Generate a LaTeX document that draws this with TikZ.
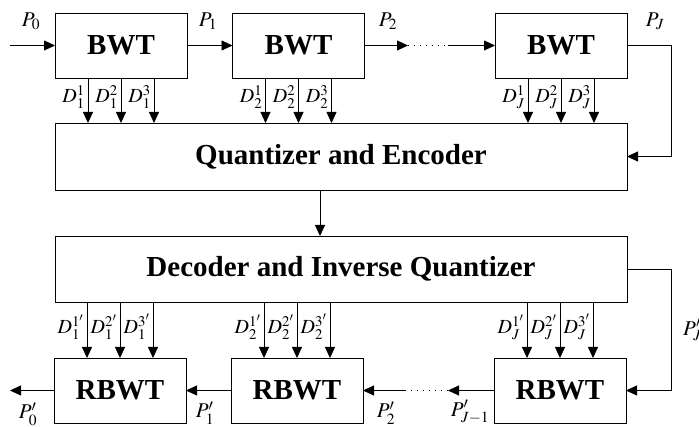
\documentclass[tikz,border=0pt]{standalone}
\usepackage{mathptmx}
\usepackage{fontspec}
\setmainfont{Liberation Serif}
\usetikzlibrary{arrows.meta,calc}
\begin{document}
\begin{tikzpicture}[x=1pt,y=-1pt,
  box/.style={draw, line width=0.8pt, inner sep=0pt, outer sep=0pt,
    font=\fontsize{29}{34}\selectfont\bfseries},
  smallbox/.style={box, minimum width=132pt, minimum height=65pt},
  widebox/.style={box, minimum width=572pt},
  arr/.style={line width=0.8pt, -{Triangle[length=11pt,width=10pt]}},
  dotline/.style={line width=0.8pt, dash pattern=on 1pt off 5pt},
  lab/.style={inner sep=0pt, font=\fontsize{21}{24}\selectfont},
  dlab/.style={inner sep=0pt, anchor=east, font=\fontsize{20}{23}\selectfont}]
\useasboundingbox (0,0) rectangle (699,427);
% top row
\node[smallbox] (b1) at (121,45.5) {BWT};
\node[smallbox] (b2) at (298.5,45.5) {BWT};
\node[smallbox] (b3) at (561,45.5) {BWT};
% middle
\node[widebox, minimum height=67pt] (q) at (341,156.5) {Quantizer and Encoder};
\node[widebox, minimum height=66pt] (dq) at (341,269) {Decoder and Inverse Quantizer};
% bottom row
\node[smallbox] (r1) at (120,390.5) {RBWT};
\node[smallbox] (r2) at (297,390.5) {RBWT};
\node[smallbox] (r3) at (560,390.5) {RBWT};
% top chain
\coordinate (in) at (10,45.5);
\coordinate (t1) at (408,45.5);
\coordinate (t2) at (448,45.5);
\draw[arr] (in) -- (b1.west);
\draw[arr] (b1.east) -- (b2.west);
\draw[arr] (b2.east) -- (t1);
\draw[dotline] (t1) -- (t2);
\draw[arr] (t2) -- (b3.west);
% bottom chain
\coordinate (out) at (10,390.5);
\coordinate (u1) at (448,390.5);
\coordinate (u2) at (405,390.5);
\draw[arr] (r1.west) -- (out);
\draw[arr] (r2.west) -- (r1.east);
\draw[arr] (r3.west) -- (u1);
\draw[dotline] (u1) -- (u2);
\draw[arr] (u2) -- (r2.east);
% feedback paths
\draw[arr] (b3.east) -- ++(44,0) |- (q.east);
\draw[arr] (dq.east) -- ++(44,0) |- (r3.east);
% quantizer to decoder
\draw[arr] (q.south -| 320,0) -- (dq.north -| 320,0);
% D arrows top
\foreach \b/\s in {b1/1,b2/2,b3/J}{
  \foreach \k/\dx in {1/-33,2/0,3/33}{
    \draw[arr] ([xshift=\dx pt]\b.south) -- ([xshift=\dx pt]\b.south |- q.north);
    \node[dlab] (l\b\k) at ([xshift=\dx pt-3pt,yshift=-19pt]\b.south) {$D_{\s}^{\k}$};
  }
}
% D arrows bottom
\foreach \b/\s in {r1/1,r2/2,r3/J}{
  \foreach \k/\dx in {1/-33,2/0,3/33}{
    \draw[arr] ([xshift=\dx pt]\b.north |- dq.south) -- ([xshift=\dx pt]\b.north);
    \node[dlab] (l\b\k) at ([xshift=\dx pt-3pt,yshift=31pt]\b.north) {$D_{\s}^{\k'}$};
  }
}
% P labels
\node[lab] (p0) at (31,21) {$P_0$};
\node[lab] (p1) at (208,21) {$P_1$};
\node[lab] (p2) at (388,21) {$P_2$};
\node[lab] (pJ) at (655,21) {$P_J$};
\node[lab] (q0) at (28,414) {$P'_0$};
\node[lab] (q1) at (205,413) {$P'_1$};
\node[lab] (q2) at (386,413) {$P'_2$};
\node[lab] (qJm) at (470,412) {$P'_{J-1}$};
\node[lab, anchor=west] (qJ) at (683,330) {$P'_J$};
\end{tikzpicture}
\end{document}
